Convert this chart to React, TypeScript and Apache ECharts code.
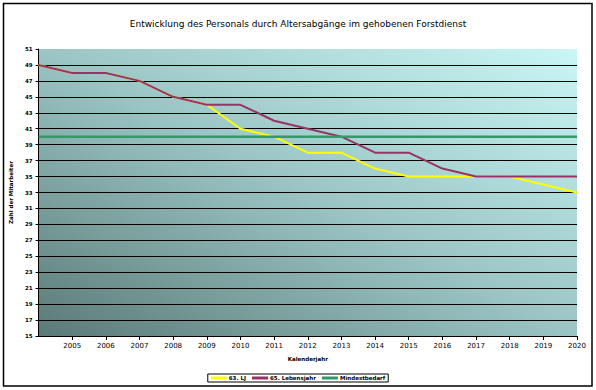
import React, { useEffect, useRef } from "react";
import * as echarts from "echarts";

const years = ["2004", "2005", "2006", "2007", "2008", "2009", "2010", "2011", "2012", "2013", "2014", "2015", "2016", "2017", "2018", "2019", "2020"];
const lj63 = [49, 48, 48, 47, 45, 44, 41, 40, 38, 38, 36, 35, 35, 35, 35, 34, 33];
const lj65 = [49, 48, 48, 47, 45, 44, 44, 42, 41, 40, 38, 38, 36, 35, 35, 35, 35];
const mindest = [40, 40, 40, 40, 40, 40, 40, 40, 40, 40, 40, 40, 40, 40, 40, 40, 40];
const seriesNames = ["63. LJ", "65. Lebensjahr", "Mindestbedarf"];
const titleText = "Entwicklung des Personals durch Altersabgänge im gehobenen Forstdienst";

const FONT = "'DejaVu Sans', sans-serif";

export default function App() {
  const ref = useRef<HTMLDivElement>(null);
  useEffect(() => {
    if (!ref.current) return;
    const chart = echarts.init(ref.current, undefined, { renderer: "svg" });
    const splitColors: string[] = [];
    for (let i = 0; i < 19; i++) splitColors.push(i === 18 ? "transparent" : "#000000");
    chart.setOption({
      animation: false,
      backgroundColor: "#ffffff",
      textStyle: { fontFamily: FONT },
      title: {
        text: titleText,
        left: "center",
        top: 14,
        textStyle: { fontFamily: FONT, fontSize: 9, fontWeight: "normal", color: "#000" },
      },
      graphic: [
        {
          type: "rect",
          shape: { x: 3.5, y: 3.5, width: 588.5, height: 382.5 },
          style: { fill: "none", stroke: "#000", lineWidth: 1.5 },
          silent: true,
        },
      ],
      legend: {
        data: seriesNames,
        bottom: 8,
        left: "center",
        icon: "rect",
        itemWidth: 16,
        itemHeight: 3,
        itemGap: 6,
        padding: [1, 3, 1, 3],
        borderColor: "#000",
        borderWidth: 1,
        textStyle: { fontFamily: FONT, fontSize: 5.5, fontWeight: "bold", color: "#000", padding: [0, 0, 0, -3] },
      },
      grid: {
        left: 34,
        top: 49,
        width: 543,
        height: 287,
        show: true,
        borderWidth: 0,
        backgroundColor: new echarts.graphic.LinearGradient(0, 1, 1, 0, [
          { offset: 0, color: "#5b7a77" },
          { offset: 0.5, color: "#9ac5c4" },
          { offset: 1, color: "#c9f6f6" },
        ]),
      },
      xAxis: {
        type: "category",
        data: years,
        boundaryGap: false,
        name: "Kalenderjahr",
        nameLocation: "middle",
        nameGap: 20,
        nameTextStyle: { fontFamily: FONT, fontSize: 5.5, fontWeight: "bold", color: "#000" },
        axisLine: { lineStyle: { color: "#000", width: 1 } },
        axisTick: { length: 4, lineStyle: { color: "#000" } },
        axisLabel: {
          interval: (idx: number) => idx > 0,
          fontFamily: FONT,
          fontSize: 7,
          color: "#000",
          margin: 6,
        },
        splitLine: { show: false },
      },
      yAxis: {
        type: "value",
        min: 15,
        max: 51,
        interval: 2,
        name: "Zahl der Mitarbeiter",
        nameLocation: "middle",
        nameGap: 19,
        nameTextStyle: { fontFamily: FONT, fontSize: 5.5, fontWeight: "bold", color: "#000" },
        axisLine: { show: true, lineStyle: { color: "#000", width: 1 } },
        axisTick: { show: true, length: 3, lineStyle: { color: "#000" } },
        axisLabel: { fontFamily: FONT, fontSize: 5.5, fontWeight: "bold", color: "#000", margin: 6 },
        splitLine: { show: true, lineStyle: { color: splitColors, width: 1 } },
      },
      series: [
        {
          name: seriesNames[0],
          type: "line",
          data: lj63,
          showSymbol: false,
          symbol: "none",
          lineStyle: { color: "#ffff00", width: 2 },
          itemStyle: { color: "#ffff00" },
          z: 2,
        },
        {
          name: seriesNames[1],
          type: "line",
          data: lj65,
          showSymbol: false,
          symbol: "none",
          lineStyle: { color: "#993366", width: 2 },
          itemStyle: { color: "#993366" },
          z: 3,
        },
        {
          name: seriesNames[2],
          type: "line",
          data: mindest,
          showSymbol: false,
          symbol: "none",
          lineStyle: { color: "#339966", width: 2.5 },
          itemStyle: { color: "#339966" },
          z: 4,
        },
      ],
    });
    return () => chart.dispose();
  }, []);
  return (
    <div
      ref={ref}
      style={{ position: "absolute", left: 0, top: 0, width: 596, height: 390 }}
    />
  );
}
